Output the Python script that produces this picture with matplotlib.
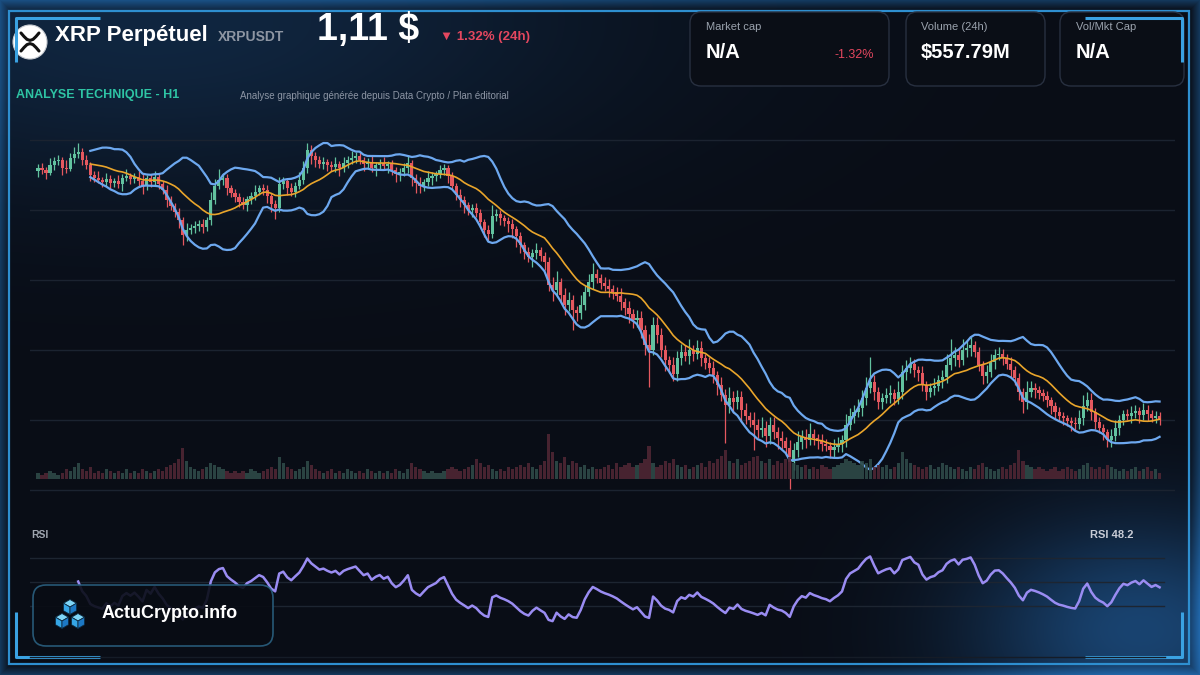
import numpy as np
import pandas as pd
import matplotlib
matplotlib.use("Agg")
import matplotlib.pyplot as plt
from matplotlib.patches import FancyBboxPatch, Rectangle, Circle, Polygon

# ---- data (H1 candles) ----
close = [
    1.483, 1.480, 1.476, 1.488, 1.494, 1.495, 1.483, 1.482, 1.498, 1.504,
    1.507, 1.495, 1.488, 1.473, 1.468, 1.465, 1.462, 1.467, 1.461, 1.464,
    1.459, 1.468, 1.471, 1.467, 1.470, 1.464, 1.456, 1.468, 1.462, 1.470,
    1.459, 1.450, 1.435, 1.426, 1.417, 1.405, 1.383, 1.390, 1.393, 1.396,
    1.399, 1.395, 1.405, 1.435, 1.456, 1.465, 1.468, 1.453, 1.446, 1.440,
    1.432, 1.428, 1.437, 1.441, 1.447, 1.453, 1.450, 1.441, 1.429, 1.423,
    1.459, 1.464, 1.453, 1.447, 1.456, 1.465, 1.483, 1.510, 1.501, 1.495,
    1.489, 1.492, 1.488, 1.485, 1.489, 1.483, 1.491, 1.495, 1.498, 1.501,
    1.495, 1.489, 1.492, 1.483, 1.488, 1.491, 1.486, 1.489, 1.480, 1.474,
    1.477, 1.483, 1.491, 1.468, 1.461, 1.456, 1.462, 1.468, 1.471, 1.474,
    1.480, 1.483, 1.471, 1.456, 1.443, 1.435, 1.428, 1.420, 1.423, 1.416,
    1.402, 1.390, 1.384, 1.411, 1.414, 1.408, 1.404, 1.399, 1.392, 1.381,
    1.368, 1.357, 1.350, 1.356, 1.360, 1.351, 1.342, 1.308, 1.300, 1.312,
    1.293, 1.278, 1.285, 1.270, 1.266, 1.278, 1.297, 1.312, 1.324, 1.318,
    1.311, 1.306, 1.302, 1.297, 1.291, 1.282, 1.273, 1.264, 1.255, 1.258,
    1.240, 1.218, 1.210, 1.248, 1.233, 1.210, 1.195, 1.188, 1.174, 1.198,
    1.207, 1.201, 1.210, 1.204, 1.213, 1.198, 1.191, 1.183, 1.173, 1.158,
    1.143, 1.128, 1.138, 1.132, 1.140, 1.120, 1.111, 1.105, 1.098, 1.090,
    1.093, 1.081, 1.098, 1.087, 1.078, 1.074, 1.063, 1.042, 1.060, 1.072,
    1.080, 1.075, 1.084, 1.078, 1.074, 1.069, 1.066, 1.060, 1.065, 1.069,
    1.075, 1.098, 1.111, 1.117, 1.123, 1.138, 1.153, 1.162, 1.147, 1.132,
    1.138, 1.143, 1.146, 1.137, 1.147, 1.177, 1.183, 1.189, 1.180, 1.176,
    1.158, 1.147, 1.153, 1.156, 1.165, 1.170, 1.188, 1.198, 1.203, 1.195,
    1.210, 1.213, 1.218, 1.207, 1.188, 1.171, 1.177, 1.192, 1.203, 1.204,
    1.198, 1.189, 1.180, 1.168, 1.147, 1.132, 1.147, 1.153, 1.150, 1.146,
    1.141, 1.135, 1.126, 1.117, 1.111, 1.108, 1.104, 1.101, 1.099, 1.108,
    1.126, 1.135, 1.117, 1.102, 1.093, 1.087, 1.075, 1.081, 1.093, 1.105,
    1.114, 1.111, 1.116, 1.119, 1.113, 1.120, 1.114, 1.108, 1.111, 1.107,
]
first_open = 1.478

# wick lengths above / below the body, in 0.002 $
wick_up = [
    3, 4, 2, 5, 3, 4, 2, 6, 4, 5,
    7, 3, 4, 2, 3, 5, 2, 4, 3, 2,
    4, 3, 5, 2, 3, 4, 6, 2, 3, 4,
    3, 2, 4, 3, 2, 3, 2, 5, 3, 4,
    3, 4, 2, 6, 5, 8, 4, 3, 2, 3,
    3, 4, 2, 3, 5, 2, 3, 4, 2, 3,
    5, 3, 2, 4, 3, 6, 5, 5, 4, 3,
    3, 4, 2, 3, 5, 2, 4, 3, 5, 3,
    4, 2, 3, 5, 2, 3, 4, 2, 3, 2,
    3, 4, 6, 2, 3, 4, 2, 5, 3, 2,
    4, 3, 2, 3, 2, 4, 3, 2, 3, 4,
    3, 2, 4, 8, 4, 3, 2, 3, 4, 2,
    3, 2, 4, 3, 5, 2, 3, 4, 6, 8,
    3, 5, 6, 4, 3, 7, 5, 6, 8, 4,
    3, 4, 5, 3, 4, 6, 3, 5, 4, 6,
    5, 4, 8, 6, 6, 5, 4, 3, 6, 5,
    6, 5, 8, 4, 6, 5, 3, 4, 5, 3,
    6, 4, 8, 5, 5, 4, 5, 3, 6, 4,
    8, 5, 6, 6, 4, 5, 3, 6, 5, 8,
    5, 6, 8, 4, 3, 5, 4, 3, 6, 5,
    4, 8, 6, 5, 7, 6, 8, 19, 5, 4,
    4, 5, 6, 3, 8, 5, 6, 5, 4, 3,
    5, 3, 4, 6, 4, 5, 8, 14, 6, 4,
    8, 5, 6, 3, 4, 3, 5, 6, 4, 5,
    4, 3, 5, 3, 4, 3, 8, 5, 4, 3,
    3, 4, 2, 3, 4, 3, 2, 3, 4, 6,
    8, 6, 5, 3, 4, 3, 2, 5, 6, 4,
    3, 4, 5, 4, 3, 5, 4, 3, 4, 3,
]
wick_dn = [
    4, 3, 5, 2, 4, 3, 5, 3, 2, 4,
    3, 4, 3, 5, 3, 2, 4, 3, 5, 3,
    3, 5, 2, 4, 3, 5, 6, 3, 4, 3,
    4, 3, 5, 3, 4, 6, 8, 5, 3, 4,
    4, 5, 3, 4, 3, 2, 4, 5, 3, 4,
    4, 3, 5, 4, 3, 2, 4, 5, 6, 8,
    3, 4, 5, 3, 4, 2, 3, 4, 6, 5,
    3, 4, 5, 3, 4, 6, 3, 4, 3, 4,
    3, 5, 4, 3, 6, 4, 3, 5, 4, 6,
    5, 3, 4, 6, 8, 5, 4, 3, 5, 4,
    3, 4, 5, 3, 4, 5, 6, 4, 5, 3,
    4, 5, 5, 3, 4, 5, 4, 6, 7, 8,
    6, 5, 4, 8, 5, 4, 6, 5, 8, 4,
    6, 8, 5, 15, 6, 5, 4, 3, 5, 4,
    5, 4, 6, 5, 4, 6, 5, 7, 6, 5,
    6, 8, 28, 4, 6, 5, 8, 6, 5, 5,
    5, 4, 6, 5, 4, 6, 5, 4, 6, 8,
    5, 29, 6, 8, 5, 8, 6, 5, 19, 6,
    5, 8, 6, 5, 8, 6, 5, 20, 6, 5,
    5, 6, 4, 5, 6, 5, 4, 6, 5, 4,
    6, 5, 4, 5, 4, 6, 5, 4, 6, 5,
    5, 4, 6, 5, 4, 5, 6, 4, 5, 6,
    5, 6, 4, 5, 4, 6, 5, 4, 6, 5,
    4, 5, 6, 4, 5, 6, 5, 4, 5, 4,
    5, 4, 6, 5, 6, 8, 5, 4, 6, 5,
    4, 5, 6, 5, 4, 5, 4, 6, 5, 4,
    5, 4, 6, 5, 4, 6, 5, 5, 4, 5,
    4, 3, 5, 4, 6, 4, 5, 3, 4, 5,
]
# volume per candle (M$)
volume = [
    3, 2, 3, 4, 3, 2, 3, 5, 4, 6,
    8, 5, 4, 6, 3, 4, 3, 5, 4, 3,
    4, 3, 5, 3, 4, 3, 5, 4, 3, 4,
    5, 4, 6, 7, 8, 10, 16, 9, 6, 5,
    4, 5, 6, 8, 7, 6, 5, 4, 3, 4,
    3, 4, 3, 5, 4, 3, 4, 5, 6, 5,
    11, 8, 6, 5, 4, 5, 6, 9, 7, 5,
    4, 3, 4, 5, 3, 4, 3, 5, 4, 3,
    4, 3, 5, 4, 3, 4, 3, 4, 3, 5,
    4, 3, 5, 8, 6, 5, 4, 3, 4, 3,
    3, 4, 5, 6, 5, 4, 5, 6, 7, 10,
    8, 6, 7, 5, 4, 5, 4, 6, 5, 6,
    7, 6, 8, 6, 5, 7, 9, 23, 14, 9,
    8, 11, 7, 9, 8, 6, 7, 5, 6, 5,
    5, 6, 7, 5, 8, 6, 7, 8, 6, 7,
    8, 10, 17, 8, 6, 7, 9, 8, 10, 7,
    6, 7, 5, 6, 7, 8, 6, 9, 8, 10,
    12, 15, 9, 8, 10, 7, 8, 9, 11, 12,
    9, 8, 10, 7, 9, 8, 10, 11, 8, 7,
    6, 7, 5, 6, 5, 7, 6, 5, 6, 7,
    8, 10, 9, 8, 7, 9, 8, 10, 6, 7,
    6, 7, 5, 6, 8, 14, 10, 8, 7, 6,
    5, 6, 7, 5, 6, 8, 7, 6, 5, 6,
    5, 4, 6, 5, 7, 8, 6, 5, 4, 5,
    6, 5, 7, 8, 15, 9, 7, 6, 5, 6,
    5, 4, 5, 6, 4, 5, 6, 5, 4, 5,
    7, 8, 6, 5, 6, 5, 7, 6, 5, 4,
    5, 4, 5, 6, 4, 5, 6, 4, 5, 3,
]
price_grid = [1.000, 1.105, 1.210, 1.315, 1.420, 1.525]
rsi_grid = [30, 50, 70]

# ---- derived series ----
close = np.array(close)
opn = np.r_[first_open, close[:-1]]
high = np.maximum(opn, close) + np.array(wick_up) * 0.002
low = np.minimum(opn, close) - np.array(wick_dn) * 0.002
n = len(close)
idx = np.arange(n)
up = close >= opn

s = pd.Series(close)
sma = s.rolling(14).mean()
sd = s.rolling(14).std(ddof=0)
bb_up = sma + 2 * sd
bb_lo = sma - 2 * sd

delta = s.diff()
gain = delta.clip(lower=0).ewm(alpha=1 / 14, adjust=False, min_periods=10).mean()
loss = (-delta.clip(upper=0)).ewm(alpha=1 / 14, adjust=False, min_periods=10).mean()
rsi = 100 - 100 / (1 + gain / loss)

# ---- figure ----
W, H = 1200, 675
fig = plt.figure(figsize=(12, 6.75), dpi=100)
plt.rcParams['font.family'] = ['Liberation Sans', 'DejaVu Sans']

def rect(x0, y0, x1, y1):
    return [x0 / W, 1 - y1 / H, (x1 - x0) / W, (y1 - y0) / H]

# background
bg = fig.add_axes([0, 0, 1, 1], zorder=0)
yy, xx = np.mgrid[0:H, 0:W].astype(float)
img = np.zeros((H, W, 3))
img[:] = np.array([9, 13, 22]) / 255
g1 = np.exp(-(((xx - 1140) / 170) ** 2 + ((yy - 630) / 110) ** 2))
img += g1[..., None] * (np.array([16, 54, 90]) / 255)
g2 = np.exp(-(((xx - 150) / 450) ** 2 + ((yy - 20) / 170) ** 2))
img += g2[..., None] * (np.array([7, 25, 42]) / 255)
d = np.minimum.reduce([xx, W - 1 - xx, yy, H - 1 - yy])
img += np.clip(1 - d / 10, 0, 1)[..., None] * (np.array([10, 42, 68]) / 255)
bg.imshow(np.clip(img, 0, 1), extent=[0, W, H, 0], aspect='auto')
bg.set_xlim(0, W)
bg.set_ylim(H, 0)
bg.axis('off')

# frame + corner brackets
bg.add_patch(Rectangle((9, 11), 1180, 653, fill=False, ec='#2e8fd0', lw=1.6))
bcol = '#3aa2e2'
for xs, ys in [([16, 16, 100], [62, 18, 18]),
               ([16, 16, 100], [612, 657, 657]),
               ([1085, 1182, 1182], [18, 18, 62]),
               ([1085, 1182, 1182], [657, 657, 612])]:
    bg.plot(xs, ys, color=bcol, lw=2.2, solid_capstyle='butt')

# stat boxes
for x0, x1 in [(690, 889), (906, 1045), (1060, 1184)]:
    bg.add_patch(FancyBboxPatch((x0, 12), x1 - x0, 74,
                                boxstyle='round,pad=0,rounding_size=11',
                                fc='#0a0e16', ec='#283040', lw=1.0))

# xrp logo
bg.add_patch(Circle((30, 42), 17, fc='white', ec='#c8ccd2', lw=0.8))
lx = np.array([-9, -6, -3, 0, 3, 6, 9])
ly = np.array([-9, -5.5, -2.6, -1.6, -2.6, -5.5, -9])
bg.plot(30 + lx, 42 + ly, color='#111111', lw=2.2, solid_capstyle='round')
bg.plot(30 + lx, 42 - ly, color='#111111', lw=2.2, solid_capstyle='round')

# header text
bg.text(55, 35, 'XRP Perpétuel', color='white', fontsize=16, fontweight='bold', va='center')
bg.text(218, 37, 'XRPUSDT', color='#8e96a3', fontsize=10, fontweight='bold', va='center')
bg.text(317, 30, '1,11 $', color='white', fontsize=27, fontweight='bold', va='center',
        family=['Liberation Sans Narrow', 'Liberation Sans'])
bg.text(440, 37, '▼ 1.32% (24h)', color='#e4475f', fontsize=9.5, fontweight='bold', va='center',
        family=['Liberation Sans', 'DejaVu Sans'])
bg.text(16, 95, 'ANALYSE TECHNIQUE - H1', color='#2ec4a4', fontsize=9, fontweight='bold', va='center')
bg.text(240, 96, 'Analyse graphique générée depuis Data Crypto / Plan éditorial',
        color='#8c95a4', fontsize=7, va='center')

for x, lab, val in [(706, 'Market cap', 'N/A'), (921, 'Volume (24h)', '$557.79M'),
                    (1076, 'Vol/Mkt Cap', 'N/A')]:
    bg.text(x, 27, lab, color='#9ba3ae', fontsize=8, va='center')
    bg.text(x, 53, val, color='white', fontsize=14.5, fontweight='bold', va='center')
bg.text(874, 55, '-1.32%', color='#e4475f', fontsize=9, ha='right', va='center')

bg.text(31, 535, 'RSI', color='#a0a6b0', fontsize=7.5, fontweight='bold', va='center')
bg.text(1090, 535, 'RSI 48.2', color='#c8ccd6', fontsize=8, fontweight='bold', va='center')
bg.plot([30, 1165], [657, 657], color='#151c27', lw=1)

# ---- price chart ----
xl = ((30 - 38) / 4.02, (1175 - 38) / 4.02)
ax = fig.add_axes(rect(30, 135, 1175, 495), zorder=1)
ax.set_facecolor('none')
for g in price_grid:
    ax.axhline(g, color='#1b2330', lw=1, zorder=0)
up_c, dn_c = '#62c29f', '#e5585f'
cols = np.where(up, up_c, dn_c)
ax.vlines(idx, low, high, colors=cols, lw=0.9, zorder=2)
body = np.maximum(np.abs(close - opn), 0.0015)
ax.bar(idx, body, bottom=np.minimum(opn, close), width=0.78, color=cols, zorder=3)
ax.plot(idx, bb_up, color='#6da8ef', lw=1.6, zorder=4)
ax.plot(idx, bb_lo, color='#6da8ef', lw=1.6, zorder=4)
ax.plot(idx, sma, color='#e9a52b', lw=1.2, zorder=4)
ax.set_xlim(*xl)
ax.set_ylim(0.9925, 1.5325)
ax.axis('off')

# volume
axv = fig.add_axes(rect(30, 433, 1175, 479), zorder=1)
axv.set_facecolor('none')
vcols = np.where(up, '#2e4a48', '#4e2633')
axv.bar(idx, volume, width=0.8, color=vcols, alpha=0.9)
axv.set_xlim(*xl)
axv.set_ylim(0, 23.5)
axv.axis('off')

# ---- RSI ----
axr = fig.add_axes(rect(30, 540, 1175, 640), zorder=1)
axr.set_facecolor('none')
for g in rsi_grid:
    axr.axhline(g, color='#1d2531', lw=1, xmax=0.99)
axr.plot(idx, rsi, color='#9a8cf2', lw=1.8)
axr.set_xlim(*xl)
axr.set_ylim(50 - 58 / 1.2, 50 + 42 / 1.2)
axr.axis('off')

# ---- brand box on top ----
top = fig.add_axes([0, 0, 1, 1], zorder=3)
top.set_facecolor('none')
top.set_xlim(0, W)
top.set_ylim(H, 0)
top.axis('off')
top.add_patch(FancyBboxPatch((33, 585), 240, 61, boxstyle='round,pad=0,rounding_size=13',
                             fc='#080c14', ec='#2a6080', lw=1.2, alpha=0.9))

def cube(cx, cy, s):
    k = 0.87 * s
    top.add_patch(Polygon([(cx, cy - s), (cx + k, cy - s / 2), (cx, cy), (cx - k, cy - s / 2)],
                          fc='#7fd6f7', ec='#0d2a40', lw=0.6))
    top.add_patch(Polygon([(cx - k, cy - s / 2), (cx, cy), (cx, cy + s), (cx - k, cy + s / 2)],
                          fc='#35a6e6', ec='#0d2a40', lw=0.6))
    top.add_patch(Polygon([(cx, cy), (cx + k, cy - s / 2), (cx + k, cy + s / 2), (cx, cy + s)],
                          fc='#1c78c4', ec='#0d2a40', lw=0.6))

cube(70, 607, 7.5)
cube(62, 621, 7.5)
cube(78, 621, 7.5)
top.text(102, 614, 'ActuCrypto.info', color='white', fontsize=13, fontweight='bold', va='center')

fig.savefig('out.png', dpi=100)
